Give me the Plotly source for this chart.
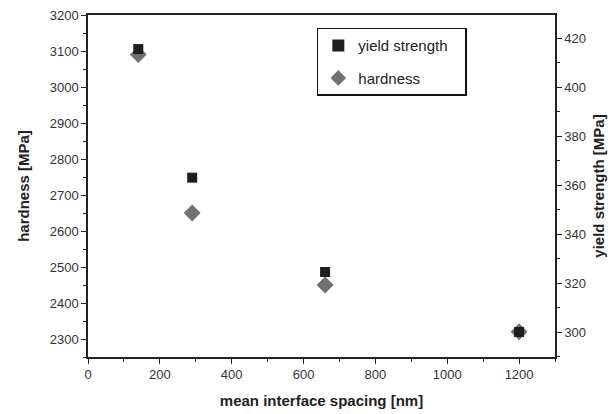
import plotly.graph_objects as go

spacing = [140, 290, 660, 1200]
yield_strength = [415.5, 363, 324.5, 300]
hardness = [3090, 2650, 2450, 2320]

font = "Liberation Sans, Arial, sans-serif"

fig = go.Figure()
fig.add_trace(go.Scatter(x=spacing, y=yield_strength, mode="markers", name="yield strength\u00a0\u00a0\u00a0",
                         yaxis="y2", legendgroup="a",
                         marker=dict(symbol="square", size=10, color="#1e1e1e")))
fig.add_trace(go.Scatter(x=spacing, y=hardness, mode="markers", name="hardness",
                         legendgroup="b",
                         marker=dict(symbol="diamond", size=13, color="#707070")))

fig.update_layout(
    width=608, height=414,
    margin=dict(l=88, r=53, t=15, b=57, autoexpand=False),
    paper_bgcolor="white", plot_bgcolor="white",
    font=dict(family=font, size=13, color="#333"),
    showlegend=True,
    legend=dict(x=0.49, y=0.963, xanchor="left", yanchor="top",
                bordercolor="#111", borderwidth=1.5, bgcolor="white",
                font=dict(size=15, color="#222"), itemsizing="constant",
                traceorder="grouped", tracegroupgap=10),
    xaxis=dict(range=[0, 1300], tickvals=[0, 200, 400, 600, 800, 1000, 1200],
               showline=True, linecolor="#222", linewidth=1.5, mirror=True, automargin=False,
               ticks="outside", ticklen=5, tickcolor="#222", showgrid=False, zeroline=False,
               minor=dict(ticks="outside", ticklen=3, dtick=100, tickcolor="#222", showgrid=False),
               title=dict(text="<b>mean interface spacing [nm]</b>", font=dict(size=15, color="#222"), standoff=14)),
    yaxis=dict(range=[2250, 3200], tickvals=list(range(2300, 3201, 100)),
               showline=True, linecolor="#222", linewidth=1.5, automargin=False,
               ticks="outside", ticklen=5, tickcolor="#222", showgrid=False, zeroline=False,
               minor=dict(ticks="outside", ticklen=3, dtick=50, tick0=2250, tickcolor="#222", showgrid=False),
               title=dict(text="<b>hardness [MPa]</b>", font=dict(size=15, color="#222"), standoff=16)),
    yaxis2=dict(range=[289.8, 429.4], overlaying="y", side="right", automargin=False,
                tickvals=list(range(300, 421, 20)),
                showline=True, linecolor="#222", linewidth=1.5,
                ticks="outside", ticklen=5, tickcolor="#222", showgrid=False, zeroline=False,
                minor=dict(ticks="outside", ticklen=3, dtick=10, tick0=290, tickcolor="#222", showgrid=False),
                title=dict(text="<b>yield strength [MPa]</b>", font=dict(size=15, color="#222"), standoff=8)),
)

fig.write_html("out.html")
